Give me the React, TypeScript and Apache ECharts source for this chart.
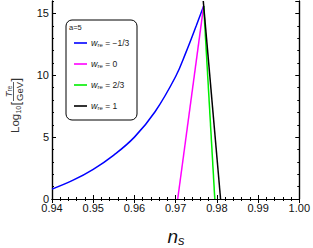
import React, { useEffect, useRef } from "react";
import * as echarts from "echarts";

// ---- data ----
const wreLabels = ["−1/3", "0", "2/3", "1"];
const blueNs = [0.94, 0.945, 0.95, 0.955, 0.96, 0.965, 0.97, 0.9725, 0.975, 0.9768];
const blueT = [0.8, 1.5, 2.4, 3.55, 5.0, 7.05, 9.9, 11.85, 14.0, 15.6];
const magentaNs = [0.9705, 0.9768];
const magentaT = [0, 15.6];
const greenNs = [0.9768, 0.9795];
const greenT = [15.6, 0];
const blackNs = [0.9767, 0.9809];
const blackT = [16, 0];
const xTicks = [0.94, 0.95, 0.96, 0.97, 0.98, 0.99, 1.0];
const yTicks = [0, 5, 10, 15];

const FONT = "Liberation Sans, Arial, sans-serif";

function zip(a: number[], b: number[]) {
  return a.map((v, i) => [v, b[i]]);
}

export default function App() {
  const ref = useRef<HTMLDivElement>(null);
  useEffect(() => {
    if (!ref.current) return;
    const chart = echarts.init(ref.current, null, { renderer: "svg" });
    const colors = ["#0000ff", "#ff00ff", "#00ee00", "#000000"];
    const datas = [zip(blueNs, blueT), zip(magentaNs, magentaT), zip(greenNs, greenT), zip(blackNs, blackT)];

    const axisLine = { show: true, lineStyle: { color: "#000", width: 1.2 } };
    const xBase = {
      type: "value" as const,
      min: xTicks[0],
      max: xTicks[xTicks.length - 1],
      interval: 0.01,
      axisLine,
      splitLine: { show: false },
      axisTick: { show: true, inside: true, length: 4, lineStyle: { color: "#000", width: 1 } },
      minorTick: { show: true, splitNumber: 5, length: 2, lineStyle: { color: "#000", width: 1 } },
    };
    const yMajor = {
      type: "value" as const,
      min: 0,
      max: 16,
      interval: 5,
      axisLine,
      splitLine: { show: false },
      axisTick: { show: true, inside: true, length: 4, lineStyle: { color: "#000", width: 1 } },
    };
    const yMinor = {
      type: "value" as const,
      min: 0,
      max: 16,
      interval: 1,
      axisLine,
      splitLine: { show: false },
      axisLabel: { show: false },
      axisTick: { show: true, inside: true, length: 2, lineStyle: { color: "#000", width: 1 } },
    };

    const rowYs = [43, 64, 85, 106];
    const legendEls: any[] = [
      {
        type: "rect",
        shape: { x: 66, y: 20, width: 71, height: 100, r: 6 },
        style: { fill: "#fff", stroke: "#000", lineWidth: 1 },
        z: 100,
      },
      {
        type: "text",
        x: 69,
        y: 27,
        style: { text: "a=5", fontSize: 7.5, fontFamily: FONT, fill: "#222", verticalAlign: "middle" },
        z: 101,
      },
    ];
    wreLabels.forEach((lab, i) => {
      legendEls.push({
        type: "line",
        shape: { x1: 74, y1: rowYs[i], x2: 87, y2: rowYs[i] },
        style: { stroke: colors[i], lineWidth: 1.6 },
        z: 101,
      });
      legendEls.push({
        type: "text",
        x: 91,
        y: rowYs[i],
        style: {
          text: `{w|w}{s|re}{t| = ${lab}}`,
          verticalAlign: "middle",
          fill: "#222",
          rich: {
            w: { fontSize: 9, fontStyle: "italic", fontFamily: FONT, fill: "#222", lineHeight: 12 },
            s: { fontSize: 6, fontFamily: FONT, fill: "#222", lineHeight: 12, padding: [4, 0, 0, 0] },
            t: { fontSize: 8.5, fontFamily: FONT, fill: "#222", lineHeight: 12 },
          },
        },
        z: 101,
      });
    });

    const yLabel = {
      type: "group",
      x: 15,
      y: 103,
      rotation: Math.PI / 2,
      children: [
        { type: "text", x: -30, y: 0, style: { text: "Log", fontSize: 11.5, fontFamily: FONT, fill: "#333", verticalAlign: "middle" } },
        { type: "text", x: -10.6, y: 3.5, style: { text: "10", fontSize: 7, fontFamily: FONT, fill: "#333", verticalAlign: "middle" } },
        { type: "text", x: -2.5, y: 0, style: { text: "[", fontSize: 13, fontFamily: FONT, fill: "#333", verticalAlign: "middle" } },
        { type: "line", shape: { x1: 2, y1: -1.5, x2: 21, y2: -1.5 }, style: { stroke: "#333", lineWidth: 0.8 } },
        {
          type: "text",
          x: 11.5,
          y: -2,
          style: {
            text: "{T|T}{r|re}",
            align: "center",
            verticalAlign: "bottom",
            rich: {
              T: { fontSize: 9.5, fontStyle: "italic", fontFamily: FONT, fill: "#333", lineHeight: 10 },
              r: { fontSize: 6.5, fontFamily: FONT, fill: "#333", lineHeight: 10, padding: [3, 0, 0, 0] },
            },
          },
        },
        { type: "text", x: 11.5, y: -0.5, style: { text: "GeV", fontSize: 9.5, fontFamily: FONT, fill: "#333", align: "center", verticalAlign: "top" } },
        { type: "text", x: 21.5, y: 0, style: { text: "]", fontSize: 13, fontFamily: FONT, fill: "#333", verticalAlign: "middle" } },
      ],
    };

    const xName = {
      type: "text",
      x: 176,
      y: 236,
      style: {
        text: "{n|n}{s|s}",
        align: "center",
        verticalAlign: "middle",
        rich: {
          n: { fontSize: 19, fontStyle: "italic", fontFamily: FONT, fill: "#111", lineHeight: 22 },
          s: { fontSize: 13, fontStyle: "italic", fontFamily: FONT, fill: "#111", lineHeight: 22, padding: [9, 0, 0, 0] },
        },
      },
    };

    chart.setOption({
      animation: false,
      backgroundColor: "#fff",
      grid: { left: 52, right: 12, top: 1, bottom: 49, containLabel: false },
      xAxis: [
        {
          ...xBase,
          position: "bottom",
          axisLabel: {
            show: true,
            fontSize: 11,
            fontFamily: FONT,
            color: "#111",
            margin: 3,
            formatter: (v: number) => v.toFixed(2),
          },
        },
        { ...xBase, position: "top", axisLabel: { show: false } },
      ],
      yAxis: [
        {
          ...yMajor,
          position: "left",
          axisLabel: {
            show: true,
            fontSize: 11,
            fontFamily: FONT,
            color: "#111",
            margin: 3,
            showMaxLabel: false,
            formatter: (v: number) => (yTicks.includes(v) ? String(v) : ""),
          },
        },
        { ...yMinor, position: "left" },
        { ...yMajor, position: "right", axisLabel: { show: false } },
        { ...yMinor, position: "right" },
      ],
      series: datas.map((d, i) => ({
        type: "line",
        name: wreLabels[i],
        data: d,
        xAxisIndex: 0,
        yAxisIndex: 0,
        showSymbol: false,
        smooth: i === 0 ? 0.4 : false,
        lineStyle: { color: colors[i], width: 1.5 },
        clip: true,
        z: 2 + i,
      })),
      graphic: [...legendEls, yLabel, xName],
    });
    return () => chart.dispose();
  }, []);
  return <div ref={ref} style={{ position: "fixed", left: 0, top: 0, width: 313, height: 248 }} />;
}
